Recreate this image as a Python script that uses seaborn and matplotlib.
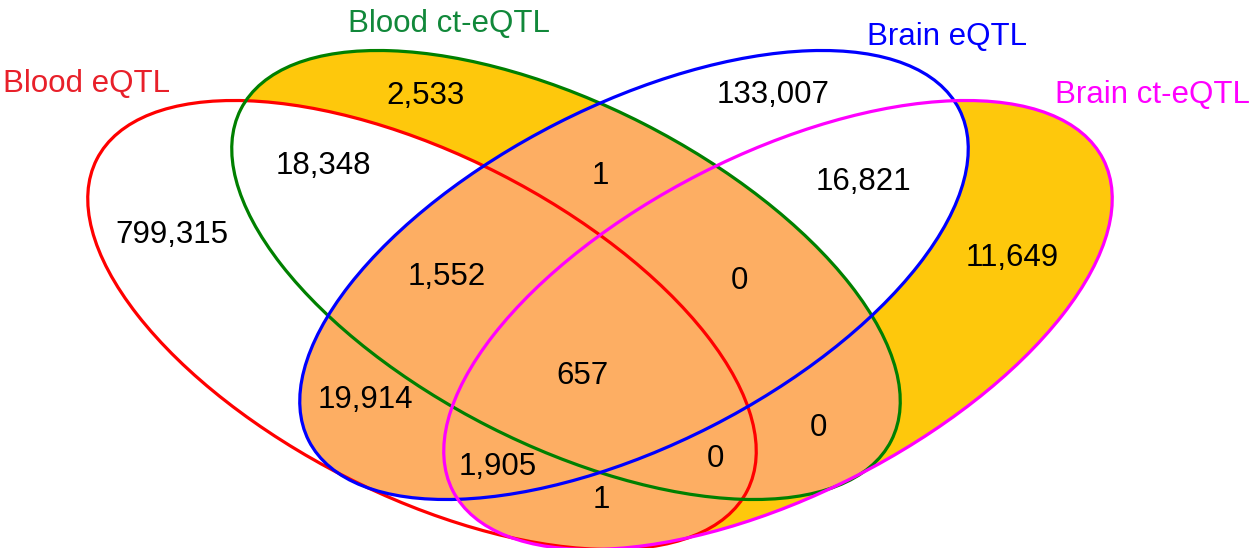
import matplotlib
matplotlib.use("Agg")
import matplotlib.pyplot as plt
from matplotlib.patches import Ellipse
import seaborn as sns

# sets and region counts of the 4-way Venn
set_names = ["Blood eQTL", "Blood ct-eQTL", "Brain eQTL", "Brain ct-eQTL"]
set_colors = ["#ff0000", "#008000", "#0000ff", "#ff00ff"]
label_colors = ["#e8202a", "#11883a", "#0000ff", "#ff00ff"]

region_counts = [799315, 18348, 2533, 1, 133007, 16821, 11649,
                 1552, 0, 657, 19914, 1905, 0, 0, 1]

# where each count sits (pixel coords of the picture)
region_pos = [(172, 235), (323, 166), (425, 96), (600, 176), (773, 95),
              (863, 182), (1012, 258), (447, 277), (739, 281), (583, 376),
              (365, 400), (498, 467), (715, 459), (818, 428), (601, 500)]

# ellipse geometry: center, tilt
centers = [(422, 325), (566, 275), (634, 275), (778, 325)]
angles = [27, 27, -27, -27]
W, H = 730, 340

ORANGE = "#fdae63"
YELLOW = "#fec80c"

sns.set_theme(style="white")
plt.rcParams["font.family"] = ["Liberation Sans", "DejaVu Sans"]

fig = plt.figure(figsize=(12.53, 5.48), dpi=100)
ax = fig.add_axes([0, 0, 1, 1])
ax.set_xlim(0, 1253)
ax.set_ylim(548, 0)
ax.axis("off")


def ell(i, **kw):
    return Ellipse(centers[i], W, H, angle=angles[i], transform=ax.transData, **kw)


# yellow for the ct-eQTL sets, white over the plain eQTL sets
ax.add_patch(ell(1, facecolor=YELLOW, edgecolor="none"))
ax.add_patch(ell(3, facecolor=YELLOW, edgecolor="none"))
ax.add_patch(ell(0, facecolor="white", edgecolor="none"))
ax.add_patch(ell(2, facecolor="white", edgecolor="none"))

# orange where blood overlaps brain
for i in (0, 1):
    for j in (2, 3):
        p = ell(i, facecolor=ORANGE, edgecolor="none")
        ax.add_patch(p)
        p.set_clip_path(ell(j))

for i in range(4):
    ax.add_patch(ell(i, facecolor="none", edgecolor=set_colors[i], lw=2.3))

for (x, y), n in zip(region_pos, region_counts):
    ax.text(x, y, f"{n:,}", ha="center", va="center", fontsize=22.5, color="black")

name_pos = [(3, 84, "left"), (449, 24, "center"), (947, 37, "center"), (1250, 95, "right")]
for (x, y, ha), name, c in zip(name_pos, set_names, label_colors):
    ax.text(x, y, name, ha=ha, va="center", fontsize=22.5, color=c)

fig.savefig("out.png", dpi=100)
